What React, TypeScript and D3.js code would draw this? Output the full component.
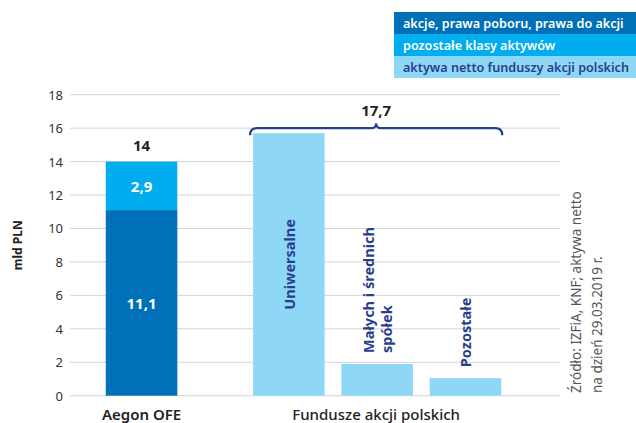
import { scaleBand, scaleLinear, path as d3path } from 'd3';

// legenda / warstwy słupka Aegon OFE
const stackKeys = ['akcje, prawa poboru, prawa do akcji', 'pozostałe klasy aktywów'];
const aegonValues = [11.1, 2.9];
const legendLabels = [
  'akcje, prawa poboru, prawa do akcji',
  'pozostałe klasy aktywów',
  'aktywa netto funduszy akcji polskich',
];

// fundusze akcji polskich
const fundNames = ['Uniwersalne', 'Małych i średnich spółek', 'Pozostałe'];
const fundLabelLines = [['Uniwersalne'], ['Małych i średnich', 'spółek'], ['Pozostałe']];
const fundValues = [15.7, 1.9, 1.05];
const fundsTotal = 17.7;

const groupLabels = ['Aegon OFE', 'Fundusze akcji polskich'];
const yTicks = [0, 2, 4, 6, 8, 10, 12, 14, 16, 18];
const sourceLines = ['Źródło: IZFiA, KNF; aktywa netto', 'na dzień 29.03.2019 r.'];

const W = 636;
const H = 423;
const FONT = '"Noto Sans", "DejaVu Sans", sans-serif';
const colors = ['#0070b8', '#00adee', '#8ed7f6'];
const navy = '#283f8e';
const grid = { left: 70, right: 560 };
const groupGap = 59;

const fmt = (v: number) => String(v).replace('.', ',');

export default function App() {
  const y = scaleLinear().domain([0, 18]).range([395.7, 94.7]);

  const x = scaleBand<string>()
    .domain([groupLabels[0], ...fundNames])
    .range([89, 459])
    .padding(0.19);
  const bw = x.bandwidth();
  const xPos = (k: string) => (x(k) as number) + (k === groupLabels[0] ? 0 : groupGap);

  // stos Aegon
  let acc = 0;
  const stack = aegonValues.map((v, i) => {
    const s = { key: stackKeys[i], y0: acc, y1: acc + v, v };
    acc += v;
    return s;
  });
  const aegonTotal = acc;
  const aegonX = xPos(groupLabels[0]);

  // klamra nad funduszami
  const bx0 = xPos(fundNames[0]) - 3;
  const bx1 = xPos(fundNames[fundNames.length - 1]) + bw + 1;
  const by = y(Math.max(...fundValues)) - 5;
  const bm = (bx0 + bx1) / 2;
  const br = d3path();
  br.moveTo(bx0, by + 7);
  br.quadraticCurveTo(bx0, by, bx0 + 7, by);
  br.lineTo(bm - 5, by);
  br.quadraticCurveTo(bm, by, bm, by - 5);
  br.quadraticCurveTo(bm, by, bm + 5, by);
  br.lineTo(bx1 - 7, by);
  br.quadraticCurveTo(bx1, by, bx1, by + 7);

  return (
    <svg
      width={W}
      height={H}
      style={{ position: 'absolute', left: 0, top: 0, background: '#fff' }}
      fontFamily={FONT}
    >
      {/* legenda */}
      {legendLabels.map((l, i) => (
        <g key={l} transform={`translate(394, ${12 + i * 22})`}>
          <rect width={242} height={22} fill={colors[i]} />
          <text
            x={9}
            y={11.5}
            dominantBaseline="central"
            fontSize={12.6}
            fontWeight={600}
            fill={i < 2 ? '#fff' : navy}
          >
            {l}
          </text>
        </g>
      ))}

      {/* siatka i oś Y */}
      {yTicks.map((t) => (
        <g key={t}>
          <line x1={grid.left} x2={grid.right} y1={y(t)} y2={y(t)} stroke="#d4d4d4" strokeWidth={1} />
          <text x={63} y={y(t)} textAnchor="end" dominantBaseline="central" fontSize={13} fill="#333">
            {t}
          </text>
        </g>
      ))}
      <text
        transform={`translate(17, ${y(9)}) rotate(-90)`}
        textAnchor="middle"
        dominantBaseline="central"
        fontSize={12}
        fontWeight={700}
        fill="#222"
      >
        mld PLN
      </text>

      {/* Aegon OFE */}
      {stack.map((s, i) => (
        <g key={s.key}>
          <rect x={aegonX} y={y(s.y1)} width={bw} height={y(s.y0) - y(s.y1)} fill={colors[i]} />
          <text
            x={aegonX + bw / 2}
            y={(y(s.y0) + y(s.y1)) / 2}
            textAnchor="middle"
            dominantBaseline="central"
            fontSize={15}
            fontWeight={700}
            fill="#fff"
          >
            {fmt(s.v)}
          </text>
        </g>
      ))}
      <text
        x={aegonX + bw / 2}
        y={y(aegonTotal) - 17}
        textAnchor="middle"
        dominantBaseline="central"
        fontSize={15}
        fontWeight={700}
        fill="#222"
      >
        {fmt(Math.round(aegonTotal * 10) / 10)}
      </text>

      {/* fundusze */}
      {fundNames.map((n, i) => {
        const bx = xPos(n);
        const inside = i === 0;
        const lines = fundLabelLines[i];
        const cx = bx + bw / 2;
        return (
          <g key={n}>
            <rect x={bx} y={y(fundValues[i])} width={bw} height={y(0) - y(fundValues[i])} fill={colors[2]} />
            {lines.map((l, j) => {
              const lx = cx + (j - (lines.length - 1) / 2) * 18;
              const ly = inside ? (y(0) + y(fundValues[i])) / 2 : y(fundValues[i]) - 11;
              return (
                <text
                  key={l}
                  transform={`translate(${lx}, ${ly}) rotate(-90)`}
                  textAnchor={inside ? 'middle' : 'start'}
                  dominantBaseline="central"
                  fontSize={14.5}
                  fontWeight={700}
                  fill={navy}
                >
                  {l}
                </text>
              );
            })}
          </g>
        );
      })}

      {/* klamra i suma */}
      <path d={br.toString()} fill="none" stroke={navy} strokeWidth={2.2} />
      <text
        x={bm}
        y={by - 18}
        textAnchor="middle"
        dominantBaseline="central"
        fontSize={15}
        fontWeight={700}
        fill="#222"
      >
        {fmt(fundsTotal)}
      </text>

      {/* etykiety grup */}
      <text x={aegonX + bw / 2} y={414} textAnchor="middle" dominantBaseline="central" fontSize={15} fontWeight={600} fill="#222">
        {groupLabels[0]}
      </text>
      <text x={bm} y={414} textAnchor="middle" dominantBaseline="central" fontSize={15} fontWeight={500} fill="#222">
        {groupLabels[1]}
      </text>

      {/* źródło */}
      {sourceLines.map((l, i) => (
        <text
          key={l}
          transform={`translate(${576 + i * 21}, 393) rotate(-90)`}
          textAnchor="start"
          dominantBaseline="central"
          fontSize={13.5}
          fill="#555"
        >
          {l}
        </text>
      ))}
    </svg>
  );
}
